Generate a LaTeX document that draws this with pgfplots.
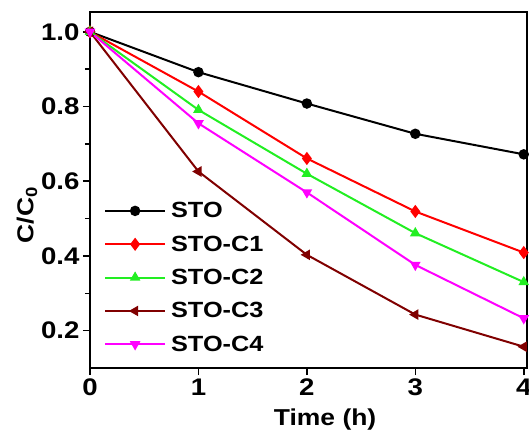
\documentclass[border=0pt]{standalone}
\usepackage{pgfplots}
\pgfplotsset{compat=1.18}
\usepackage{fontspec}
\setmainfont{Liberation Sans}[FakeStretch=1.15]
\definecolor{cSTO}{HTML}{000000}
\definecolor{cC1}{HTML}{FF0000}
\definecolor{cC2}{HTML}{22EE22}
\definecolor{cC3}{HTML}{800000}
\definecolor{cC4}{HTML}{FF00FF}
\begin{document}
\begin{tikzpicture}
\useasboundingbox (-90pt,-69pt) rectangle (439pt,368pt);
\begin{axis}[
    scale only axis,
    width=437pt, height=356pt,
    xmin=0, xmax=4.03,
    ymin=0.1, ymax=1.053,
    xtick={0,1,2,3,4},
    ytick={0.2,0.4,0.6,0.8,1.0},
    minor ytick={0.3,0.5,0.7,0.9},
    tick align=outside, tick pos=left,
    major tick length=7pt, minor tick length=5pt,
    every tick/.style={line width=1.5pt, black},
    axis line style={line width=1.6pt},
    /pgf/number format/assume math mode=true,
    ticklabel style={font=\fontsize{24}{26}\selectfont\bfseries},
    yticklabel style={/pgf/number format/.cd, fixed, fixed zerofill, precision=1},
    xlabel={Time (h)},
    ylabel={C/C\textsubscript{0}},
    label style={font=\fontsize{23}{25}\selectfont\bfseries},
    xlabel style={at={(axis description cs:0.538,-0.146)}, anchor=center},
    ylabel style={at={(axis description cs:-0.144,0.43)}, anchor=center},
    legend style={at={(axis description cs:0.025,0.031)}, anchor=south west,
                  draw=none, fill=none, font=\fontsize{22}{24}\selectfont\bfseries,
                  row sep=12.5pt, nodes={inner xsep=5pt}},
    legend cell align=left,
    legend image code/.code={\draw[mark repeat=2, mark phase=2] plot coordinates {(0pt,0pt) (30pt,0pt) (60pt,0pt)};},
    every axis plot/.append style={line width=2pt, mark size=4.2pt},
]
\addplot[color=cSTO, mark=*] coordinates {(0,1.0) (1,0.892) (2,0.808) (3,0.727) (4,0.672)};
\addlegendentry{STO}
\addplot[color=cC1, mark=diamond*, mark size=5pt] coordinates {(0,1.0) (1,0.840) (2,0.661) (3,0.519) (4,0.409)};
\addlegendentry{STO-C1}
\addplot[color=cC2, mark=triangle*] coordinates {(0,1.0) (1,0.791) (2,0.620) (3,0.461) (4,0.330)};
\addlegendentry{STO-C2}
\addplot[color=cC3, mark=triangle*, mark options={rotate=90}] coordinates {(0,1.0) (1,0.626) (2,0.403) (3,0.243) (4,0.157)};
\addlegendentry{STO-C3}
\addplot[color=cC4, mark=triangle*, mark options={rotate=180}] coordinates {(0,1.0) (1,0.755) (2,0.570) (3,0.376) (4,0.233)};
\addlegendentry{STO-C4}
\end{axis}
\end{tikzpicture}
\end{document}
